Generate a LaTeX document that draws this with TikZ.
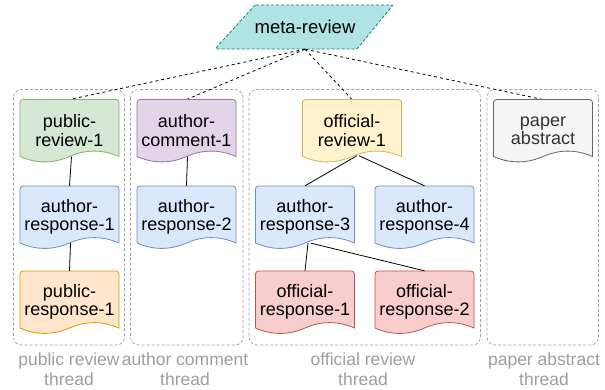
\documentclass[tikz,border=0pt]{standalone}
\usepackage{fontspec}
\setmainfont{Liberation Sans}
\usepackage{tikz}
\usetikzlibrary{calc}

\definecolor{metafill}{HTML}{B0E3E6}
\definecolor{metaline}{HTML}{0E8088}
\definecolor{greenfill}{HTML}{D5E8D4}
\definecolor{greenline}{HTML}{82B366}
\definecolor{purplefill}{HTML}{E1D5E7}
\definecolor{purpleline}{HTML}{9673A6}
\definecolor{bluefill}{HTML}{DAE8FC}
\definecolor{blueline}{HTML}{6C8EBF}
\definecolor{orangefill}{HTML}{FFE6CC}
\definecolor{orangeline}{HTML}{D79B00}
\definecolor{yellowfill}{HTML}{FFF2CC}
\definecolor{yellowline}{HTML}{D6B656}
\definecolor{redfill}{HTML}{F8CECC}
\definecolor{redline}{HTML}{B85450}
\definecolor{grayfill}{HTML}{F5F5F5}
\definecolor{grayline}{HTML}{666666}
\definecolor{abstracttext}{HTML}{333333}
\definecolor{threadgray}{HTML}{9E9E9E}

\tikzset{
	docshape/.style={line width=0.8pt},
	doctext/.style={minimum width=99pt, minimum height=62pt, inner sep=0pt, align=center, font=\fontsize{18}{18.5}\selectfont},
	greendoc/.style={draw=greenline, fill=greenfill},
	purpledoc/.style={draw=purpleline, fill=purplefill},
	bluedoc/.style={draw=blueline, fill=bluefill},
	orangedoc/.style={draw=orangeline, fill=orangefill},
	yellowdoc/.style={draw=yellowline, fill=yellowfill},
	reddoc/.style={draw=redline, fill=redfill},
	graydoc/.style={draw=grayline, fill=grayfill, text=abstracttext},
	threadbox/.style={draw=threadgray, line width=0.7pt, dash pattern=on 3pt off 2pt, rounded corners=8pt},
	threadlabel/.style={text=threadgray, anchor=north, inner sep=0pt, align=center, font=\fontsize{17.5}{20}\selectfont},
	reply/.style={line width=0.8pt, black},
	metalink/.style={line width=0.8pt, black, dash pattern=on 3pt off 3pt}
}

% document shape: centre x, top y, name, text
\def\docnode[#1](#2,#3)#4#5{%
	\draw[docshape,#1] (#2-49.5,#3+57) [rounded corners=3pt] -- (#2-49.5,#3) -- (#2+49.5,#3) [sharp corners] -- (#2+49.5,#3+57)
		.. controls (#2+33,#3+49.8) and (#2+16.5,#3+49.8) .. (#2,#3+57)
		.. controls (#2-16.5,#3+64.2) and (#2-33,#3+64.2) .. (#2-49.5,#3+57) -- cycle;
	\node[doctext,#1,draw=none,fill=none] (#4) at (#2,#3+31) {#5};
}

\begin{document}
\begin{tikzpicture}[x=1pt, y=-1pt]
			%%%%% START %%%%%
			\useasboundingbox (0,0) rectangle (605,389);
			
			% thread boxes
			\draw[threadbox] (13.5,89.5) rectangle (124.5,345);
			\draw[threadbox] (130.5,89.5) rectangle (243,345);
			\draw[threadbox] (249,89.5) rectangle (480.5,345);
			\draw[threadbox] (487,89.5) rectangle (598.5,345);
			
			\node[threadlabel] (lblpublic) at (69,353) {public review\\thread};
			\node[threadlabel] (lblauthor) at (185,353) {author comment\\thread};
			\node[threadlabel] (lblofficial) at (363,353) {official review\\thread};
			\node[threadlabel] (lblabstract) at (544,353) {paper abstract\\thread};
			
			% meta-review
			\draw[fill=metafill, draw=metaline, line width=0.8pt, dash pattern=on 3pt off 2pt, rounded corners=1pt] (255,5) -- (393,5) -- (357,49) -- (215,49) -- cycle;
			\node[minimum height=44pt, inner sep=0pt, font=\fontsize{18.5}{20}\selectfont] (mr) at (305,27) {meta-review};
			
			\coordinate (pr1top) at (69.5,99.5);
			\coordinate (ac1top) at (186.5,99.5);
			\coordinate (or1top) at (352,99.5);
			\coordinate (patop) at (543,99.5);
			\draw[metalink] (mr.south) -- (pr1top);
			\draw[metalink] (mr.south) -- (ac1top);
			\draw[metalink] (mr.south) -- (or1top);
			\draw[metalink] (mr.south) -- (patop);
			
			% documents
			\docnode[greendoc](69.5,99.5){pr1}{public-\\review-1}
			\docnode[bluedoc](69.5,186){ar1}{author-\\response-1}
			\docnode[orangedoc](69.5,271){pres1}{public-\\response-1}
			
			\docnode[purpledoc](186.5,99.5){ac1}{author-\\comment-1}
			\docnode[bluedoc](186.5,186){ar2}{author-\\response-2}
			
			\docnode[yellowdoc](352,99.5){or1}{official-\\review-1}
			\docnode[bluedoc](305,186){ar3}{author-\\response-3}
			\docnode[bluedoc](424.5,186){ar4}{author-\\response-4}
			\docnode[reddoc](305,271){ores1}{official-\\response-1}
			\docnode[reddoc](424.5,271){ores2}{official-\\response-2}
			
			\docnode[graydoc](543,99.5){pa}{paper\\abstract}
			
			% replies
			\draw[reply] ([xshift=2pt,yshift=5pt]pr1.south) -- (ar1.north);
			\draw[reply] ([xshift=1pt,yshift=5pt]ar1.south) -- (pres1.north);
			\draw[reply] ([xshift=1pt,yshift=5pt]ac1.south) -- (ar2.north);
			\draw[reply] ([xshift=5pt,yshift=6pt]or1.south) -- (ar3.north);
			\draw[reply] ([xshift=7pt,yshift=6pt]or1.south) -- (ar4.north);
			\draw[reply] ([xshift=3pt,yshift=5pt]ar3.south) -- (ores1.north);
			\draw[reply] ([xshift=6pt,yshift=5pt]ar3.south) -- (ores2.north);
			
			%%%%% END %%%%%
\end{tikzpicture}
\end{document}
